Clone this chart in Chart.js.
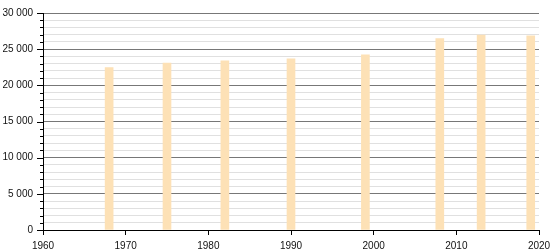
<!DOCTYPE html>
<html>
<head>
<meta charset="utf-8">
<script src="https://cdn.jsdelivr.net/npm/chart.js@4.4.1/dist/chart.umd.min.js"></script>
<style>
  html, body { margin: 0; padding: 0; background: #fff; }
  #wrap { width: 550px; height: 250px; }
</style>
</head>
<body>
<div id="wrap"><canvas id="c" width="550" height="250"></canvas></div>
<script>
const years = [1968, 1975, 1982, 1990, 1999, 2008, 2013, 2019];
const population = [22470, 23080, 23400, 23680, 24230, 26450, 26960, 26860];
const xTickValues = [1960, 1970, 1980, 1990, 2000, 2010, 2020];
const yMajorStep = 5000;
const yMinorStep = 1000;

function fmtSpace(v) {
  return String(v).replace(/\B(?=(\d{3})+(?!\d))/g, ' ');
}

const tickPlugin = {
  id: 'yTicks',
  afterDraw(chart) {
    const y = chart.scales.y;
    const ctx = chart.ctx;
    ctx.save();
    ctx.strokeStyle = '#000';
    ctx.lineWidth = 1;
    y.ticks.forEach(t => {
      const py = Math.round(y.getPixelForValue(t.value)) + 0.5;
      const major = t.value % yMajorStep === 0;
      const len = major ? 6 : 3;
      ctx.beginPath();
      ctx.moveTo(y.right - len, py);
      ctx.lineTo(y.right, py);
      ctx.stroke();
    });
    ctx.restore();
  }
};

Chart.defaults.font.family = '"Liberation Sans", Arial, sans-serif';
Chart.defaults.font.size = 10;
Chart.defaults.color = '#111';

new Chart(document.getElementById('c'), {
  type: 'bar',
  data: {
    datasets: [{
      data: years.map((yr, i) => ({ x: yr, y: population[i] })),
      backgroundColor: '#fde1b6',
      borderWidth: 0,
      barThickness: 8
    }]
  },
  options: {
    responsive: false,
    animation: false,
    events: [],
    layout: { padding: { top: 13, right: 11, left: 0, bottom: 0 } },
    plugins: { legend: { display: false }, tooltip: { enabled: false } },
    scales: {
      x: {
        type: 'linear',
        min: 1960,
        max: 2020,
        offset: false,
        afterBuildTicks(scale) {
          scale.ticks = xTickValues.map(v => ({ value: v }));
        },
        afterFit(scale) {
          scale.height = 20;
          scale.paddingLeft = 0;
          scale.paddingRight = 0;
        },
        ticks: {
          autoSkip: false,
          maxRotation: 0,
          padding: 5,
          callback: v => String(v)
        },
        grid: {
          offset: false,
          drawOnChartArea: false,
          drawTicks: true,
          tickLength: 5,
          tickColor: '#000'
        },
        border: { display: true, color: '#000', width: 1 }
      },
      y: {
        min: 0,
        max: 30000,
        afterFit(scale) {
          scale.width = 43;
          scale.paddingTop = 0;
          scale.paddingBottom = 0;
        },
        ticks: {
          stepSize: yMinorStep,
          autoSkip: false,
          padding: 10,
          callback: v => (v % yMajorStep === 0 ? fmtSpace(v) : '')
        },
        grid: {
          drawTicks: false,
          color: ctx => (ctx.tick && ctx.tick.value % yMajorStep === 0 ? '#777' : '#e0e0e0'),
          lineWidth: 1
        },
        border: { display: true, color: '#000', width: 1 }
      }
    }
  },
  plugins: [tickPlugin]
});
</script>
</body>
</html>
